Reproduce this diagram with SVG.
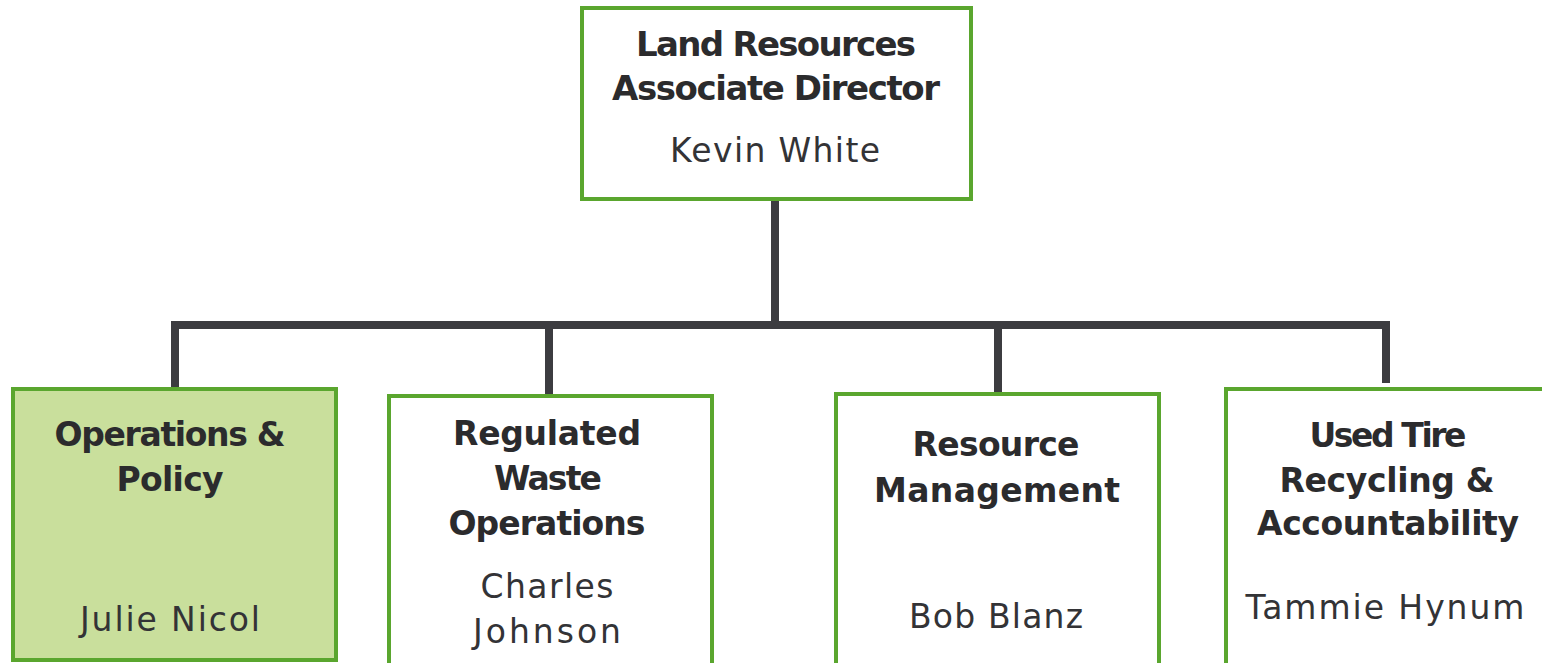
<svg xmlns="http://www.w3.org/2000/svg" width="1542" height="663" viewBox="0 0 1542 663">
<style>
.box{fill:#ffffff;stroke:#5aa62e;stroke-width:4}
.boxg{fill:#c9df9c;stroke:#5aa62e;stroke-width:4}
.t{font-family:"DejaVu Sans","Liberation Sans",Arial,sans-serif;font-weight:bold;font-size:33px;fill:#2b2b2d;text-anchor:middle}
.tt{font-size:34px}
.n{font-family:"DejaVu Sans","Liberation Sans",Arial,sans-serif;font-weight:normal;font-size:33px;fill:#333336;text-anchor:middle}
.c{fill:none;stroke:#3c3c40;stroke-width:8;stroke-linecap:butt;stroke-linejoin:miter}
</style>
<rect width="1542" height="663" fill="#ffffff"/>
<g id="connectors">
<path class="c" d="M775 200 V325"/>
<path class="c" d="M171 325 H1386 V383"/>
<path class="c" d="M175 325 V387"/>
<path class="c" d="M549 325 V394"/>
<path class="c" d="M998 325 V392"/>
</g>
<g id="director">
<rect class="box" x="582" y="8" width="389" height="191"/>
<text class="t tt" x="776" y="56" textLength="280">Land Resources</text>
<text class="t tt" x="776" y="100" textLength="328">Associate Director</text>
<text class="n" x="775" y="162" textLength="210">Kevin White</text>
</g>
<g id="operations-policy">
<rect class="boxg" x="13" y="389" width="323" height="271"/>
<text class="t" x="170" y="446" textLength="231">Operations &amp;</text>
<text class="t" x="170" y="491" textLength="107">Policy</text>
<text class="n" x="170" y="631" textLength="180">Julie Nicol</text>
</g>
<g id="regulated-waste">
<rect class="box" x="389" y="396" width="323" height="275"/>
<text class="t" x="547" y="445" textLength="188">Regulated</text>
<text class="t" x="548" y="490" textLength="108">Waste</text>
<text class="t" x="547" y="535" textLength="197">Operations</text>
<text class="n" x="547" y="598" textLength="133">Charles</text>
<text class="n" x="547" y="643" textLength="148">Johnson</text>
</g>
<g id="resource-management">
<rect class="box" x="836" y="394" width="323" height="275"/>
<text class="t" x="996" y="456" textLength="167">Resource</text>
<text class="t" x="997" y="502" textLength="246">Management</text>
<text class="n" x="996" y="628" textLength="174">Bob Blanz</text>
</g>
<g id="used-tire">
<rect class="box" x="1226" y="389" width="330" height="280"/>
<text class="t" x="1388" y="447" textLength="157">Used Tire</text>
<text class="t" x="1387" y="492" textLength="215">Recycling &amp;</text>
<text class="t" x="1388" y="535" textLength="262">Accountability</text>
<text class="n" x="1385" y="619" textLength="279">Tammie Hynum</text>
</g>
</svg>
